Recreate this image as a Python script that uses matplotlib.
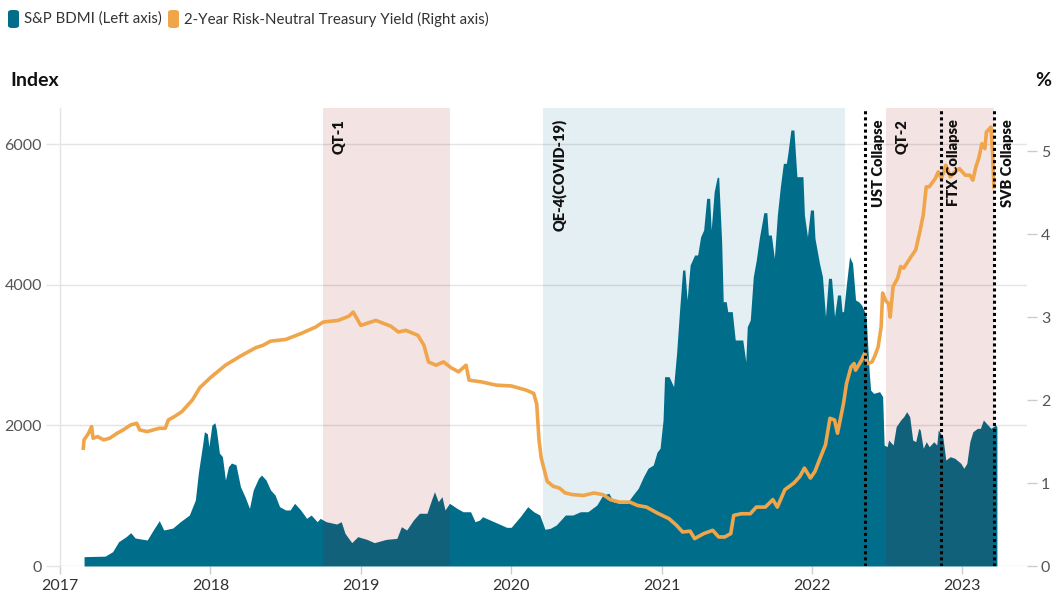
import matplotlib
matplotlib.use("Agg")
import matplotlib.pyplot as plt
from matplotlib.patches import FancyBboxPatch

plt.rcParams["font.family"] = ["Lato", "DejaVu Sans"]

# S&P BDMI (left axis), decimal years
bdmi_t = [
    2017.16, 2017.30, 2017.35, 2017.39, 2017.44, 2017.47, 2017.50, 2017.58, 2017.62, 2017.66,
    2017.69, 2017.75, 2017.80, 2017.86, 2017.90, 2017.92, 2017.95, 2017.96, 2017.98, 2017.99,
    2018.01, 2018.03, 2018.04, 2018.06, 2018.08, 2018.10, 2018.12, 2018.14, 2018.17, 2018.20,
    2018.23, 2018.26, 2018.285, 2018.32, 2018.34, 2018.37, 2018.40, 2018.43, 2018.46, 2018.50,
    2018.53, 2018.56, 2018.60, 2018.64, 2018.67, 2018.71, 2018.73, 2018.77, 2018.84, 2018.87,
    2018.895, 2018.94, 2018.98, 2019.04, 2019.09, 2019.17, 2019.24, 2019.27, 2019.305, 2019.35,
    2019.39, 2019.44, 2019.47, 2019.49, 2019.515, 2019.54, 2019.56, 2019.59, 2019.64, 2019.68,
    2019.73, 2019.76, 2019.79, 2019.81, 2019.86, 2019.91, 2019.97, 2020.00, 2020.06, 2020.11,
    2020.15, 2020.19, 2020.225, 2020.26, 2020.30, 2020.36, 2020.41, 2020.46, 2020.51, 2020.57,
    2020.61, 2020.65, 2020.68, 2020.72, 2020.77, 2020.81, 2020.845, 2020.88, 2020.91, 2020.945,
    2020.97, 2020.99, 2021.01, 2021.02, 2021.05, 2021.08, 2021.10, 2021.12, 2021.14, 2021.155,
    2021.17, 2021.19, 2021.22, 2021.24, 2021.26, 2021.28, 2021.30, 2021.32, 2021.33, 2021.35,
    2021.37, 2021.38, 2021.40, 2021.41, 2021.43, 2021.44, 2021.47, 2021.49, 2021.54, 2021.56,
    2021.57, 2021.59, 2021.61, 2021.63, 2021.65, 2021.68, 2021.70, 2021.71, 2021.73, 2021.75,
    2021.77, 2021.79, 2021.81, 2021.83, 2021.84, 2021.86, 2021.88, 2021.89, 2021.90, 2021.94,
    2021.95, 2021.97, 2021.99, 2022.01, 2022.02, 2022.05, 2022.07, 2022.08, 2022.09, 2022.11,
    2022.13, 2022.14, 2022.15, 2022.17, 2022.19, 2022.20, 2022.21, 2022.23, 2022.25, 2022.27,
    2022.29, 2022.31, 2022.33, 2022.35, 2022.36, 2022.37, 2022.38, 2022.39, 2022.41, 2022.45,
    2022.47, 2022.48, 2022.50, 2022.51, 2022.54, 2022.56, 2022.59, 2022.61, 2022.63, 2022.65,
    2022.67, 2022.69, 2022.71, 2022.72, 2022.74, 2022.76, 2022.78, 2022.81, 2022.83, 2022.84,
    2022.87, 2022.89, 2022.92, 2022.95, 2022.99, 2023.01, 2023.03, 2023.05, 2023.07, 2023.10,
    2023.12, 2023.14, 2023.17, 2023.19, 2023.22, 2023.23,
]
bdmi_v = [
    133, 140, 204, 346, 417, 474, 398, 370, 512, 645,
    512, 540, 630, 725, 939, 1323, 1750, 1910, 1880, 1697,
    2005, 2038, 1935, 1607, 1555, 1223, 1412, 1465, 1440, 1128,
    986, 820, 1081, 1248, 1294, 1223, 1081, 1010, 844, 797,
    797, 892, 797, 678, 725, 630, 678, 630, 597, 630,
    465, 332, 417, 379, 332, 379, 393, 559, 512, 654,
    750, 750, 939, 1057, 915, 986, 797, 892, 820, 772,
    772, 630, 654, 701, 654, 607, 550, 550, 701, 844,
    772, 725, 522, 536, 583, 725, 725, 772, 772, 868,
    1010, 1034, 915, 892, 892, 1010, 1105, 1270, 1390, 1437,
    1620, 1674, 2077, 2693, 2693, 2551, 3025, 3641, 4210, 4210,
    3784, 4282, 4424, 4424, 4684, 4780, 5230, 5230, 4780, 5325,
    5529, 5529, 4590, 3760, 3760, 3618, 3618, 3215, 3215, 2906,
    3404, 3499, 4115, 4353, 4661, 5026, 5026, 4708, 4708, 4377,
    4993, 5395, 5728, 5728, 5870, 6202, 6202, 5870, 5538, 5538,
    4993, 4684, 5064, 5064, 4661, 4306, 4115, 3831, 3547, 4092,
    4092, 3831, 3547, 3855, 3855, 3618, 3618, 4021, 4400, 4306,
    3784, 3760, 3713, 3618, 3547, 3168, 2788, 2503, 2456, 2480,
    2408, 1721, 1697, 1792, 1721, 1982, 2077, 2124, 2195, 2124,
    1792, 1768, 1958, 1935, 1674, 1768, 1697, 1768, 1721, 1935,
    1839, 1508, 1555, 1532, 1461, 1390, 1461, 1768, 1910, 1958,
    1958, 2077, 2005, 1958, 2005, 1982,
]

# 2-year risk-neutral Treasury yield (right axis, %)
yield_t = [
    2017.155, 2017.16, 2017.19, 2017.21, 2017.22, 2017.25, 2017.29, 2017.33, 2017.38, 2017.42,
    2017.47, 2017.51, 2017.53, 2017.58, 2017.62, 2017.66, 2017.70, 2017.72, 2017.76, 2017.81,
    2017.84, 2017.88, 2017.93, 2018.00, 2018.10, 2018.20, 2018.30, 2018.35, 2018.40, 2018.50,
    2018.60, 2018.70, 2018.75, 2018.85, 2018.92, 2018.95, 2019.00, 2019.10, 2019.20, 2019.25,
    2019.30, 2019.38, 2019.42, 2019.45, 2019.50, 2019.55, 2019.60, 2019.65, 2019.70, 2019.72,
    2019.80, 2019.90, 2020.00, 2020.10, 2020.15, 2020.17, 2020.185, 2020.20, 2020.22, 2020.24,
    2020.28, 2020.32, 2020.36, 2020.41, 2020.48, 2020.55, 2020.61, 2020.66, 2020.72, 2020.79,
    2020.84, 2020.90, 2020.97, 2021.05, 2021.10, 2021.14, 2021.19, 2021.22, 2021.28, 2021.34,
    2021.38, 2021.42, 2021.46, 2021.48, 2021.53, 2021.59, 2021.63, 2021.69, 2021.74, 2021.77,
    2021.82, 2021.88, 2021.92, 2021.95, 2021.99, 2022.02, 2022.05, 2022.09, 2022.12, 2022.15,
    2022.17, 2022.21, 2022.23, 2022.26, 2022.28, 2022.29, 2022.33, 2022.35, 2022.37, 2022.40,
    2022.42, 2022.44, 2022.46, 2022.47, 2022.49, 2022.51, 2022.52, 2022.54, 2022.57, 2022.59,
    2022.61, 2022.66, 2022.69, 2022.72, 2022.74, 2022.76, 2022.78, 2022.82, 2022.84, 2022.86,
    2022.88, 2022.89, 2022.92, 2022.95, 2022.98, 2023.02, 2023.05, 2023.07, 2023.09, 2023.11,
    2023.13, 2023.15, 2023.16, 2023.19, 2023.20, 2023.21,
]
yield_v = [
    1.42, 1.52, 1.60, 1.68, 1.54, 1.56, 1.52, 1.54, 1.60, 1.64,
    1.70, 1.72, 1.64, 1.62, 1.64, 1.66, 1.66, 1.76, 1.80, 1.86,
    1.92, 2.00, 2.15, 2.27, 2.42, 2.53, 2.63, 2.66, 2.71, 2.73,
    2.80, 2.88, 2.94, 2.96, 3.01, 3.06, 2.90, 2.96, 2.89, 2.82,
    2.84, 2.78, 2.66, 2.46, 2.42, 2.46, 2.39, 2.34, 2.42, 2.24,
    2.22, 2.18, 2.17, 2.12, 2.08, 1.95, 1.52, 1.30, 1.16, 1.02,
    0.96, 0.94, 0.88, 0.86, 0.85, 0.88, 0.86, 0.80, 0.77, 0.77,
    0.73, 0.71, 0.64, 0.57, 0.49, 0.41, 0.42, 0.33, 0.39, 0.43,
    0.35, 0.35, 0.39, 0.61, 0.63, 0.63, 0.71, 0.71, 0.80, 0.71,
    0.92, 1.00, 1.08, 1.18, 1.06, 1.14, 1.28, 1.46, 1.78, 1.76,
    1.60, 1.96, 2.20, 2.40, 2.44, 2.36, 2.48, 2.56, 2.44, 2.46,
    2.54, 2.64, 2.88, 3.29, 3.20, 3.16, 3.00, 3.37, 3.47, 3.61,
    3.59, 3.73, 3.81, 4.05, 4.23, 4.57, 4.57, 4.67, 4.75, 4.67,
    4.77, 4.83, 4.69, 4.75, 4.79, 4.71, 4.71, 4.65, 4.81, 4.92,
    5.09, 5.03, 5.23, 5.29, 5.01, 4.57,
]

# policy periods and events
period_names = ["QT-1", "QE-4(COVID-19)", "QT-2"]
period_start = [2018.75, 2020.21, 2022.49]
period_end = [2019.59, 2022.22, 2023.21]
period_kind = ["qt", "qe", "qt"]

event_names = ["UST Collapse", "FTX Collapse", "SVB Collapse"]
event_t = [2022.35, 2022.855, 2023.21]

year_ticks = [2017, 2018, 2019, 2020, 2021, 2022, 2023]
left_ticks = [0, 2000, 4000, 6000]
right_ticks = [0, 1, 2, 3, 4, 5]

TEAL = "#006e8a"
ORANGE = "#f0a54a"
GRID = "#e4e4e4"
W, H = 1054, 596

fig = plt.figure(figsize=(W / 100, H / 100), dpi=100)
ax = fig.add_axes([60 / W, 1 - 566 / H, (1027 - 60) / W, (566 - 108) / H])
ax2 = ax.twinx()

ax.fill_between(bdmi_t, bdmi_v, 0, color=TEAL, lw=0, zorder=2)

for name, a, b, kind in zip(period_names, period_start, period_end, period_kind):
    if kind == "qt":
        ax.axvspan(a, b, color="#a00000", alpha=0.11, lw=0, zorder=3)
    else:
        ax.axvspan(a, b, color=TEAL, alpha=0.11, lw=0, zorder=3)
    ax2.annotate(name, xy=(a, 1), xycoords=("data", "axes fraction"),
                 xytext=(7, -8), textcoords="offset points",
                 rotation=90, ha="left", va="top", fontsize=10.5,
                 fontweight="heavy", color="#111111", zorder=7)

ax2.plot(yield_t, yield_v, color=ORANGE, lw=2.6, solid_joinstyle="round", zorder=4)

for name, t in zip(event_names, event_t):
    ax2.axvline(t, color="black", ls=(0, (1, 1)), lw=2.2, zorder=5)
    ax2.annotate(name, xy=(t, 1), xycoords=("data", "axes fraction"),
                 xytext=(5, -8), textcoords="offset points",
                 rotation=90, ha="left", va="top", fontsize=10.5,
                 fontweight="heavy", color="#111111", zorder=7)

ax.set_xlim(2017.0, 2023.43)
ax.set_ylim(0, 6515)
ax2.set_ylim(0, 5.52)

ax.set_xticks(year_ticks)
ax.set_xticklabels([str(y) for y in year_ticks])
ax.set_yticks(left_ticks)
ax.set_yticklabels([str(v) for v in left_ticks])
ax2.set_yticks(right_ticks)
ax2.set_yticklabels([str(v) for v in right_ticks])

ax.grid(axis="y", color=GRID, lw=1, zorder=1)
ax.set_axisbelow(True)
for a_ in (ax, ax2):
    for s in a_.spines.values():
        s.set_visible(False)
ax.spines["left"].set_visible(True)
ax.spines["left"].set_color(GRID)
ax.spines["left"].set_linewidth(1)
ax.tick_params(axis="y", length=10, width=1, color=GRID, labelsize=11.5, labelcolor="#555555", pad=3)
ax2.tick_params(axis="y", length=7, width=1, color="#cccccc", labelsize=11.5, labelcolor="#555555", pad=3)
ax.tick_params(axis="x", length=6, width=1, color="#cccccc", labelsize=11.5, labelcolor="#333333", pad=3)

ax.set_zorder(1)
ax2.set_zorder(2)
ax2.patch.set_visible(False)

# axis titles
fig.text(10 / W, 1 - 80 / H, "Index", fontsize=14, fontweight="bold", va="center", ha="left", color="#111111")
fig.text(1043 / W, 1 - 80 / H, "%", fontsize=14, fontweight="bold", va="center", ha="center", color="#111111")

# legend
def legend_item(x, color, label):
    box = FancyBboxPatch((x / W, 1 - 28 / H), 11 / W, 18 / H,
                         boxstyle="round,pad=0,rounding_size=0.004",
                         transform=fig.transFigure, fc=color, ec="none")
    fig.patches.append(box)
    fig.text((x + 16) / W, 1 - 19 / H, label, fontsize=10.8, va="center", ha="left", color="#333333")

legend_item(8, TEAL, "S&P BDMI (Left axis)")
legend_item(168, ORANGE, "2-Year Risk-Neutral Treasury Yield (Right axis)")

fig.savefig("out.png", dpi=100)
